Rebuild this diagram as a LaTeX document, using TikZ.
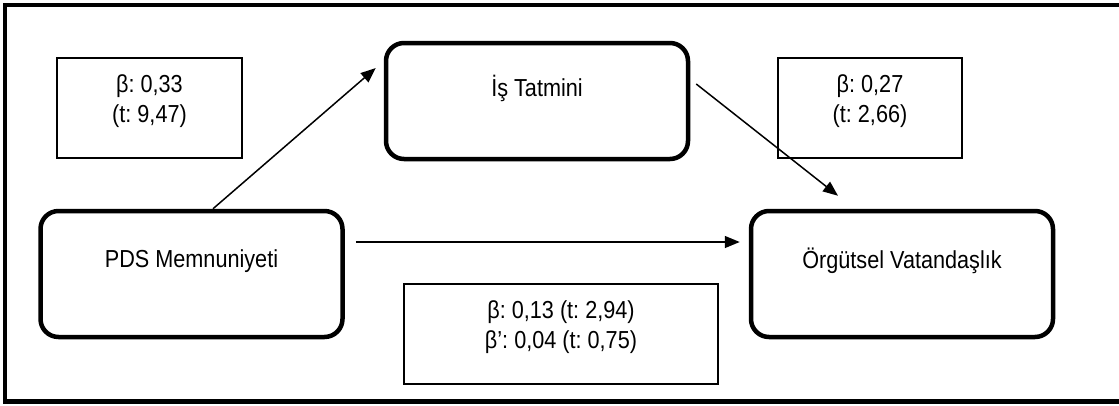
\documentclass[tikz,border=0pt]{standalone}
\usepackage{fontspec}
\setmainfont{Liberation Sans}[FakeStretch=0.88]
\usetikzlibrary{arrows.meta}
\begin{document}
\frenchspacing
\begin{tikzpicture}[x=1pt,y=-1pt,
  font=\fontsize{24.6}{30}\selectfont,
  varbox/.style={draw,line width=4.5pt,rounded corners=18pt,
    minimum width=302pt,minimum height=126pt,inner sep=0pt},
  coefbox/.style={draw,line width=1.1pt,minimum height=100pt,
    inner sep=0pt},
  coeftext/.style={align=center,yshift=7pt},
  arr/.style={line width=1.5pt,-{Triangle[length=15pt,width=12pt]}}]
\useasboundingbox (0,0) rectangle (1119,405);
% outer frame (open on the right)
\draw[line width=4.5pt] (1130,5) -- (5,5) -- (5,401.5) -- (1130,401.5);
% variables
\node[varbox,minimum height=116pt,
  label={[yshift=13pt]center:İş Tatmini}] (is) at (537,101) {};
\node[varbox,label={[yshift=13pt]center:PDS Memnuniyeti}] (pds) at (191.5,274) {};
\node[varbox,label={[yshift=13pt]center:Örgütsel Vatandaşlık}] (org) at (902,274) {};
% path coefficients
\node[coefbox,minimum width=185pt,
  label={[coeftext]center:β: 0,33\\(t: 9,47)}] (c1) at (149.5,108) {};
\node[coefbox,minimum width=184pt,
  label={[coeftext]center:β: 0,27\\(t: 2,66)}] (c2) at (870,108) {};
\node[coefbox,minimum width=314pt,
  label={[coeftext]center:β: 0,13 (t: 2,94)\\β’: 0,04 (t: 0,75)}] (c3) at (561,334) {};
% paths
\draw[arr] ([xshift=21.5pt]pds.north) -- ([xshift=-8pt,yshift=33pt]is.west);
\draw[arr] ([xshift=11pt,yshift=32pt]pds.east) -- ([xshift=-9pt,yshift=32pt]org.west);
\draw[arr] ([xshift=6pt,yshift=17pt]is.east) -- ([xshift=-64pt,yshift=13pt]org.north);
\end{tikzpicture}
\end{document}
